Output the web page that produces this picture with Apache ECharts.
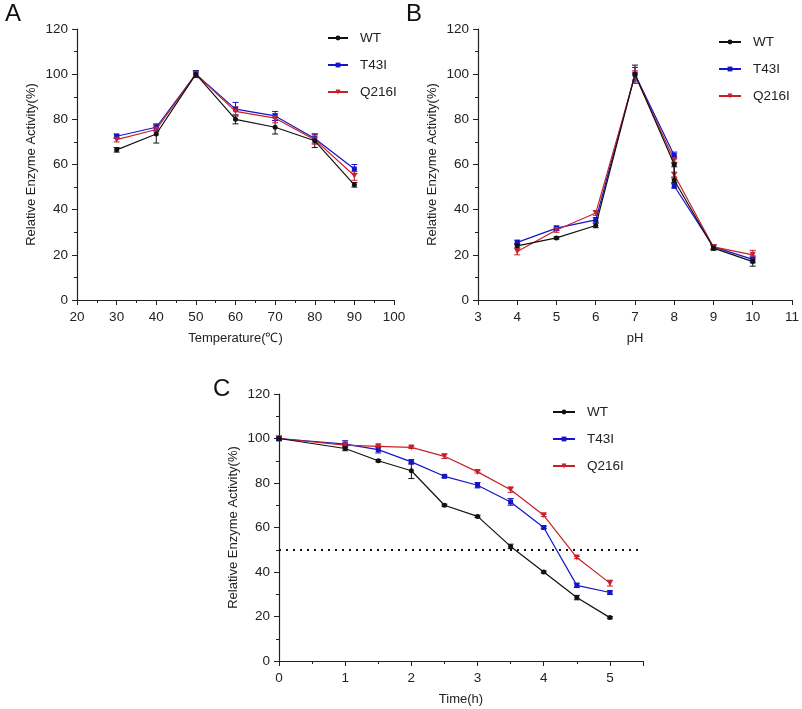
<!DOCTYPE html>
<html>
<head>
<meta charset="utf-8">
<script src="https://cdn.jsdelivr.net/npm/echarts@6/dist/echarts.min.js"></script>
<style>
html,body{margin:0;padding:0;background:#fff;}
#main{width:802px;height:709px;}
</style>
</head>
<body>
<div id="main"></div>
<script>
// panel A - temperature
var tempX = [30, 40, 50, 60, 70, 80, 90];
var tempWT = [66.5, 73.5, 100, 80, 76.5, 70.5, 51];
var tempWTErr = [1, 4, 1.5, 2, 3, 3, 1];
var tempT43I = [72.5, 76.5, 100, 84.5, 81.5, 71.5, 58];
var tempT43IErr = [1, 1.5, 1.5, 3, 2, 2, 2];
var tempQ216I = [71, 75.5, 100, 83.5, 80.5, 71, 55];
var tempQ216IErr = [1, 1, 1, 2, 2, 2, 2];

// panel B - pH (two readings at pH 8)
var phX = [4, 5, 6, 7, 8, 8, 9, 10];
var phWT = [24, 27.5, 33, 100, 60, 53, 23, 17];
var phWTErr = [1, 0.5, 1, 4, 1, 1, 1, 2];
var phT43I = [25.5, 31.8, 35.5, 100, 64, 50.5, 23.5, 18];
var phT43IErr = [1, 1, 1, 3, 1.5, 1, 1, 1.5];
var phQ216I = [21.5, 31, 38.5, 99.5, 62, 55.5, 23.5, 20];
var phQ216IErr = [1.5, 1, 1, 2, 1.5, 1, 1, 2];

// panel C - time
var timeX = [0, 1, 1.5, 2, 2.5, 3, 3.5, 4, 4.5, 5];
var timeWT = [100, 95.5, 90, 85.5, 70, 65, 51.5, 40, 28.5, 19.5];
var timeWTErr = [1, 1, 0.5, 3.5, 0.5, 0.5, 1, 0.5, 1, 0.5];
var timeT43I = [100, 97.5, 95, 89.5, 83, 79, 71.5, 60, 34, 30.8];
var timeT43IErr = [1, 1.5, 1.5, 1, 0.5, 1.2, 1.5, 0.5, 1, 0.8];
var timeQ216I = [100, 97, 96.5, 96, 92, 85, 77, 65.5, 46.5, 35];
var timeQ216IErr = [0.5, 0.5, 0.5, 0.5, 1, 0.5, 1.2, 0.5, 0.5, 1.3];
var halfLine = 50;

var yTicks = {min: 0, max: 120, interval: 20};
var names = ['WT', 'T43I', 'Q216I'];
var colors = {WT: '#111111', T43I: '#1414c8', Q216I: '#c8202a'};
var symbols = {WT: 'circle', T43I: 'rect', Q216I: 'triangle'};

var fontFam = '"Liberation Sans", Arial, sans-serif';

function pairs(xs, ys) {
	var out = [];
	for (var i = 0; i < xs.length; i++) out.push([xs[i], ys[i]]);
	return out;
}
function errs(xs, ys, es) {
	var out = [];
	for (var i = 0; i < xs.length; i++) out.push([xs[i], ys[i] - es[i], ys[i] + es[i]]);
	return out;
}

//error bars with caps
function errRender(color) {
	return function (params, api) {
		var lo = api.coord([api.value(0), api.value(1)]);
		var hi = api.coord([api.value(0), api.value(2)]);
		var w = 3;
		var st = {stroke: color, lineWidth: 1};
		return {
			type: 'group',
			children: [
				{type: 'line', shape: {x1: lo[0], y1: lo[1], x2: hi[0], y2: hi[1]}, style: st},
				{type: 'line', shape: {x1: lo[0] - w, y1: lo[1], x2: lo[0] + w, y2: lo[1]}, style: st},
				{type: 'line', shape: {x1: hi[0] - w, y1: hi[1], x2: hi[0] + w, y2: hi[1]}, style: st}
			]
		};
	};
}

function xAxisOf(idx, name, min, max, interval, minor, showMax) {
	return {
		type: 'value', gridIndex: idx, min: min, max: max, interval: interval,
		name: name, nameLocation: 'middle', nameGap: 32,
		nameTextStyle: {fontFamily: fontFam, fontSize: 13, color: '#222'},
		axisLine: {show: true, onZero: false, lineStyle: {color: '#222', width: 1.2}},
		axisTick: {show: true, inside: false, length: 5, lineStyle: {color: '#222'}},
		minorTick: {show: minor, splitNumber: 2, length: 3, lineStyle: {color: '#222'}},
		axisLabel: {fontFamily: fontFam, fontSize: 13.5, color: '#222', margin: 10, showMaxLabel: showMax},
		splitLine: {show: false}
	};
}
function yAxisOf(idx) {
	return {
		type: 'value', gridIndex: idx, min: yTicks.min, max: yTicks.max, interval: yTicks.interval,
		name: 'Relative Enzyme Activity(%)', nameLocation: 'middle', nameGap: 39,
		nameTextStyle: {fontFamily: fontFam, fontSize: 13, color: '#222'},
		axisLine: {show: true, lineStyle: {color: '#222', width: 1.2}},
		axisTick: {show: true, inside: false, length: 5, lineStyle: {color: '#222'}},
		minorTick: {show: true, splitNumber: 2, length: 3, lineStyle: {color: '#222'}},
		axisLabel: {fontFamily: fontFam, fontSize: 13.5, color: '#222', margin: 9},
		splitLine: {show: false}
	};
}

var panels = [
	{x: tempX, data: {WT: [tempWT, tempWTErr], T43I: [tempT43I, tempT43IErr], Q216I: [tempQ216I, tempQ216IErr]}},
	{x: phX, data: {WT: [phWT, phWTErr], T43I: [phT43I, phT43IErr], Q216I: [phQ216I, phQ216IErr]}},
	{x: timeX, data: {WT: [timeWT, timeWTErr], T43I: [timeT43I, timeT43IErr], Q216I: [timeQ216I, timeQ216IErr]}}
];

var series = [];
panels.forEach(function (p, gi) {
	names.forEach(function (n) {
		series.push({
			type: 'custom', name: 'err_' + n + gi, xAxisIndex: gi, yAxisIndex: gi,
			renderItem: errRender(colors[n]), data: errs(p.x, p.data[n][0], p.data[n][1]),
			silent: true, z: 1
		});
	});
	names.forEach(function (n) {
		series.push({
			type: 'line', name: n, xAxisIndex: gi, yAxisIndex: gi,
			data: pairs(p.x, p.data[n][0]),
			symbol: symbols[n], symbolSize: n == 'Q216I' ? 6 : 5, symbolRotate: n == 'Q216I' ? 180 : 0,
			showAllSymbol: true,
			itemStyle: {color: colors[n]},
			lineStyle: {color: colors[n], width: 1.2},
			z: n == 'WT' ? 4 : 3
		});
	});
});
// dotted 50% line in panel C
series.push({
	type: 'line', name: 'half', xAxisIndex: 2, yAxisIndex: 2, data: [],
	markLine: {
		silent: true, symbol: 'none', label: {show: false},
		lineStyle: {color: '#111', width: 2, type: [2, 5]},
		data: [[{coord: [0, halfLine]}, {coord: [5.5, halfLine]}]]
	}
});

function legendAt(left, top, w) {
	return {
		data: names, orient: 'vertical', left: left, top: top, itemGap: 13,
		itemWidth: w, itemHeight: 6,
		textStyle: {fontFamily: fontFam, fontSize: 13.5, color: '#222', padding: [0, 0, 0, 7]},
		selectedMode: false
	};
}

var myChart = echarts.init(document.getElementById('main'));
var option = {
	backgroundColor: '#fff',
	animation: false,
	title: [
		{text: 'A', left: 0, top: -3, textStyle: {fontFamily: fontFam, fontSize: 24, fontWeight: 'normal', color: '#111'}},
		{text: 'B', left: 401, top: -3, textStyle: {fontFamily: fontFam, fontSize: 24, fontWeight: 'normal', color: '#111'}},
		{text: 'C', left: 208, top: 372, textStyle: {fontFamily: fontFam, fontSize: 24, fontWeight: 'normal', color: '#111'}}
	],
	grid: [
		{left: 77, top: 29, width: 317, height: 271},
		{left: 478, top: 29, width: 317, height: 271},
		{left: 279, top: 394, width: 364, height: 267}
	],
	legend: [legendAt(322, 26, 20), legendAt(713, 30, 22), legendAt(547, 400, 22)],
	xAxis: [
		xAxisOf(0, 'Temperature(\u2103)', 20, 100, 10, true, true),
		xAxisOf(1, 'pH', 3, 11, 1, false, true),
		xAxisOf(2, 'Time(h)', 0, 5.5, 1, true, false)
	],
	yAxis: [yAxisOf(0), yAxisOf(1), yAxisOf(2)],
	series: series
};
myChart.setOption(option);
</script>
</body>
</html>
